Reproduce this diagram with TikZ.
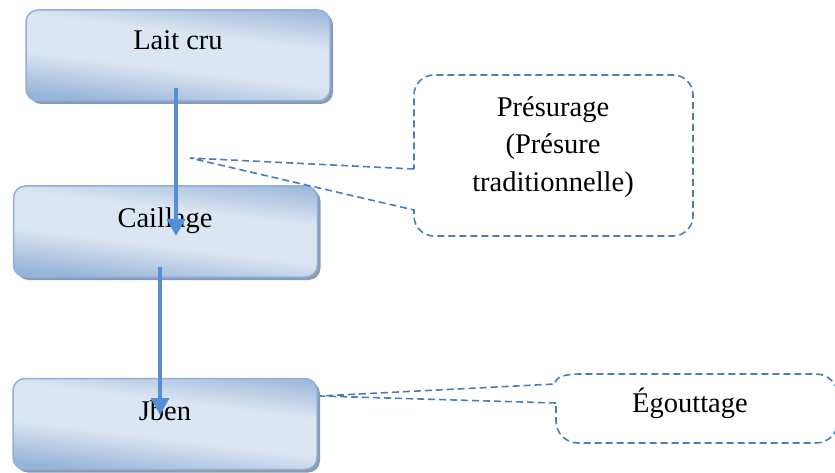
\documentclass[tikz,border=0pt]{standalone}
\usepackage{fontspec}
\setmainfont{Liberation Serif}
\usetikzlibrary{arrows.meta,shadows}
\definecolor{bdark}{HTML}{98B5D9}
\definecolor{blight}{HTML}{DCE6F2}
\definecolor{bedge}{HTML}{8EB0DA}
\definecolor{shad}{HTML}{8C9AAE}
\definecolor{arrc}{HTML}{558ED5}
\definecolor{dashc}{HTML}{4A7EBB}
\pgfdeclareverticalshading{boxsh}{100bp}{color(0bp)=(bdark); color(26bp)=(bdark); color(44bp)=(blight); color(60bp)=(blight); color(78bp)=(bdark); color(100bp)=(bdark)}
\begin{document}
\begin{tikzpicture}[x=1pt,y=-1pt,
  stepbox/.style={rectangle, rounded corners=12pt, draw=bedge, line width=1.5pt,
    shading=boxsh, shading angle=-7, minimum width=304pt, minimum height=91pt, inner sep=0pt,
    drop shadow={shadow xshift=3pt, shadow yshift=-3pt, fill=shad, opacity=1}},
  lbl/.style={font=\fontsize{28.5}{37.5}\selectfont, inner sep=0pt, anchor=base},
  flow/.style={draw=arrc, line width=4pt, -{Triangle[width=18pt,length=17pt]}},
  callout/.style={draw=dashc, line width=1.6pt, dash pattern=on 7pt off 4pt}]
\clip (0,0) rectangle (835,473);
% boxes
\node[stepbox] (lait) at (178,55.5) {};
\node[stepbox] (cail) at (165.5,231.5) {};
\node[stepbox] (jben) at (165,424) {};
% box labels
\node[lbl] (laitT) at (178,50) {Lait cru};
\node[lbl] (cailT) at (165,227) {Caillage};
\node[lbl] (jbenT) at (165,420) {Jben};
% arrows
\draw[flow] ([xshift=-2pt,yshift=14pt]lait.south) -- ([xshift=10.5pt,yshift=-4.5pt]cail.center);
\draw[flow] ([xshift=-5.5pt,yshift=11pt]cail.south) -- ([xshift=-5pt,yshift=9pt]jben.center);
% callout 1
\coordinate (p1) at (190,158);
\node[lbl, anchor=center, align=center] (pres) at (553,147) {Présurage\\(Présure\\traditionnelle)};
\draw[callout] (414,169) -- (p1) -- (414,210) [rounded corners=20pt] -- (414,236) -- (693,236) -- (693,75) -- (414,75) [sharp corners] -- cycle;
% callout 2
\coordinate (p2) at (320,396);
\node[lbl] (egou) at (690,412) {Égouttage};
\draw[callout] (556,403) -- (p2) -- (555,384) .. controls (555,377) and (565,374) .. (580,374) [rounded corners=22pt] -- (838,374) -- (838,443) -- (556,443) [sharp corners] -- cycle;
\end{tikzpicture}
\end{document}
